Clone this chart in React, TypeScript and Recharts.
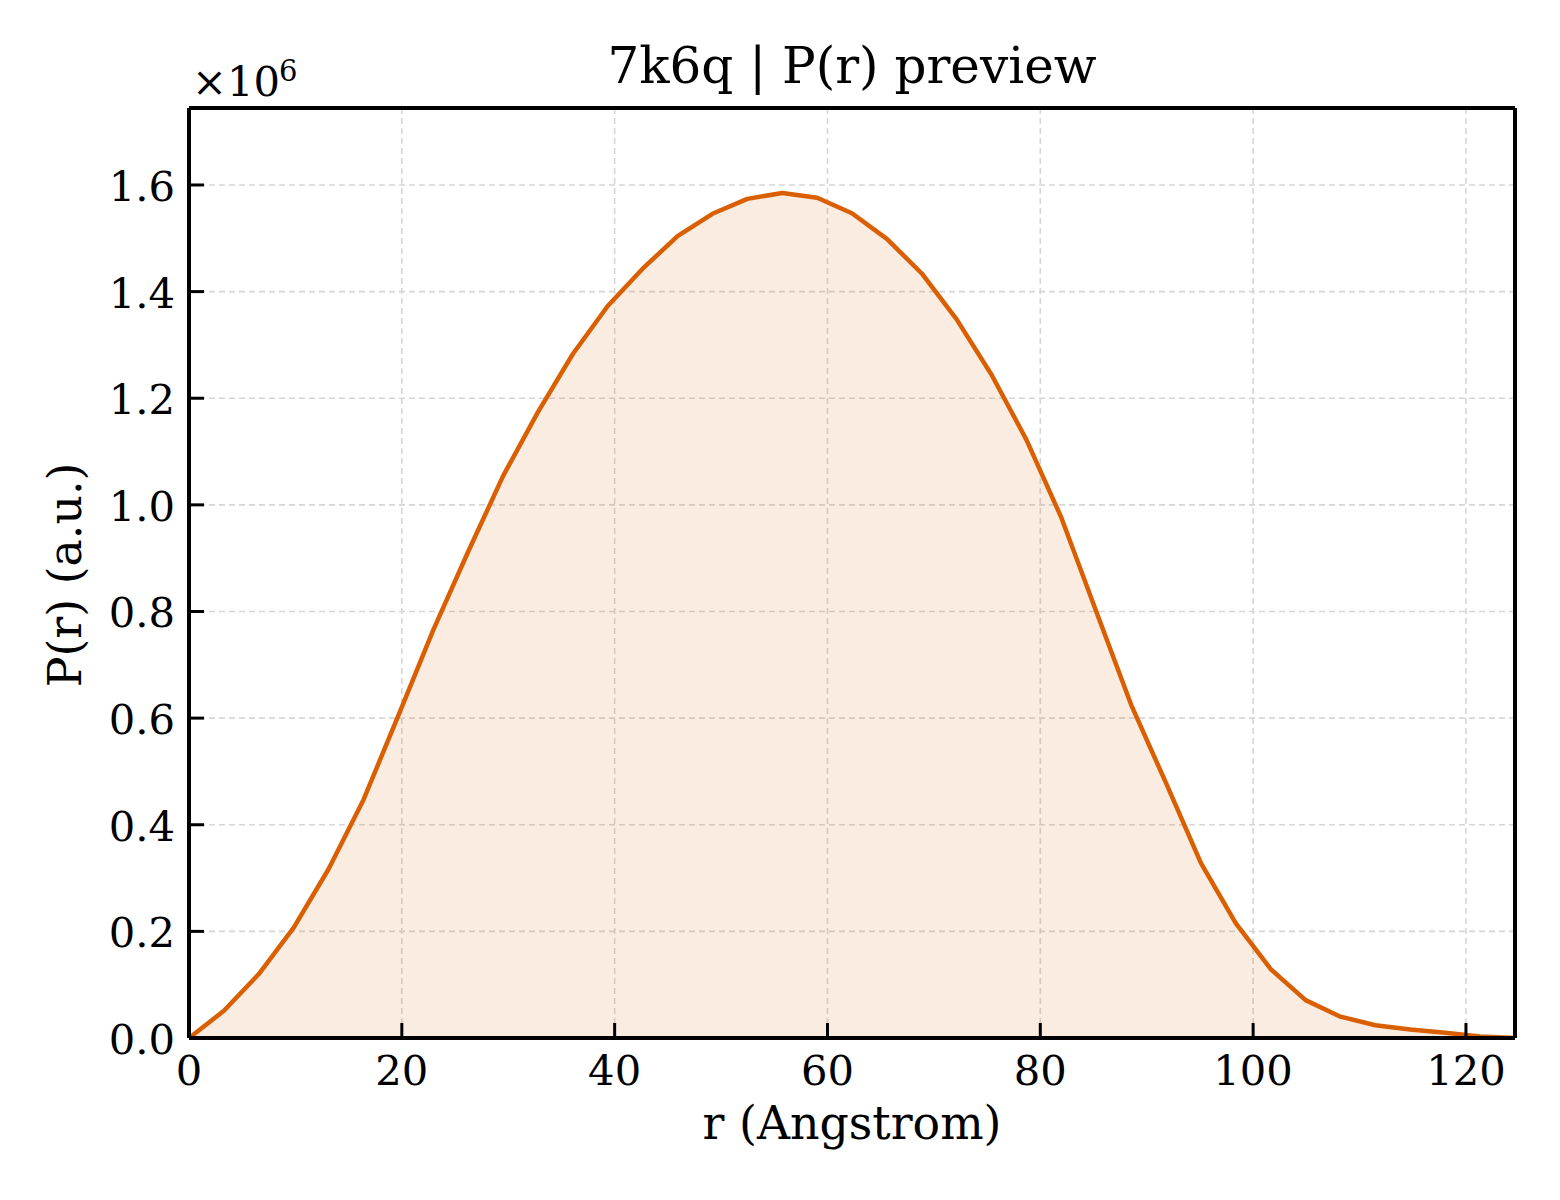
import React from "react";
import { ComposedChart, Area, Line, XAxis, YAxis, CartesianGrid } from "recharts";

// r grid (Angstrom) and P(r) values
const rValues = [
  0, 3.28, 6.56, 9.84, 13.12, 16.4, 19.68, 22.95, 26.23, 29.51, 32.79, 36.07, 39.35,
  42.63, 45.91, 49.19, 52.47, 55.75, 59.03, 62.3, 65.58, 68.86, 72.14, 75.42, 78.7,
  81.98, 85.26, 88.54, 91.82, 95.1, 98.38, 101.66, 104.93, 108.21, 111.49, 114.77,
  118.05, 121.33, 124.61,
];
const prValues = [
  0, 51000, 120000, 207000, 317000, 447000, 605000, 765000, 912000, 1054000, 1174000,
  1283000, 1373000, 1443000, 1504000, 1546000, 1574000, 1585000, 1576000, 1547000,
  1499000, 1434000, 1348000, 1244000, 1122000, 976000, 800000, 625000, 478000, 328000,
  215000, 129000, 71000, 40000, 24000, 16000, 10000, 3000, 0,
];
const xTicks = [0, 20, 40, 60, 80, 100, 120];
const yTicks = [0, 200000, 400000, 600000, 800000, 1000000, 1200000, 1400000, 1600000];

const data = rValues.map((r, i) => ({ r, p: prValues[i] }));

const FONT = "'DejaVu Serif', serif";
const ORANGE = "#d95f02";

const YTick = (props: any) => {
  const { x, y, payload } = props;
  return (
    <g>
      <line x1={x} x2={x + 15} y1={y} y2={y} stroke="#000" strokeWidth={3} />
      <text x={x - 14} y={y} dy={16} textAnchor="end" fontSize={41.7} fill="#000" fontFamily={FONT}>
        {(payload.value / 1e6).toFixed(1)}
      </text>
    </g>
  );
};

const XTick = (props: any) => {
  const { x, y, payload } = props;
  return (
    <g>
      <line x1={x} x2={x} y1={y} y2={y - 15} stroke="#000" strokeWidth={3} />
      <text x={x} y={y + 47} textAnchor="middle" fontSize={41.7} fill="#000" fontFamily={FONT}>
        {payload.value}
      </text>
    </g>
  );
};

export default function App() {
  return (
    <div style={{ position: "absolute", left: 0, top: 0, width: 1560, height: 1200, background: "#fff", fontFamily: FONT }}>
      <ComposedChart
        width={1560}
        height={1200}
        data={data}
        margin={{ top: 98, right: 35, bottom: 102, left: 89 }}
      >
        <CartesianGrid stroke="#d6d6d6" strokeWidth={1.6} strokeDasharray="6 4" />
        <Area
          type="linear"
          dataKey="p"
          stroke="none"
          fill={ORANGE}
          fillOpacity={0.12}
          dot={false}
          activeDot={false}
          isAnimationActive={false}
        />
        <Line
          type="linear"
          dataKey="p"
          stroke={ORANGE}
          strokeWidth={4.5}
          strokeLinejoin="round"
          dot={false}
          activeDot={false}
          isAnimationActive={false}
        />
        <XAxis
          dataKey="r"
          type="number"
          domain={[0, 124.61]}
          ticks={xTicks}
          allowDataOverflow
          height={60}
          tickSize={0}
          tickMargin={0}
          tickLine={false}
          axisLine={{ stroke: "#000", strokeWidth: 4 }}
          tick={XTick}
          interval={0}
        />
        <XAxis
          xAxisId="top"
          orientation="top"
          dataKey="r"
          type="number"
          domain={[0, 124.61]}
          height={10}
          tick={false}
          tickLine={false}
          axisLine={{ stroke: "#000", strokeWidth: 4 }}
        />
        <YAxis
          type="number"
          domain={[0, 1744400]}
          ticks={yTicks}
          allowDataOverflow
          width={100}
          tickSize={0}
          tickMargin={0}
          tickLine={false}
          axisLine={{ stroke: "#000", strokeWidth: 4 }}
          tick={YTick}
          interval={0}
        />
        <YAxis
          yAxisId="right"
          orientation="right"
          type="number"
          domain={[0, 1744400]}
          width={10}
          tick={false}
          tickLine={false}
          axisLine={{ stroke: "#000", strokeWidth: 4 }}
        />
      </ComposedChart>
      <svg
        width={1560}
        height={1200}
        style={{ position: "absolute", left: 0, top: 0, pointerEvents: "none" }}
        fontFamily={FONT}
      >
        <text x={852} y={83} textAnchor="middle" fontSize={50} fill="#000">
          7k6q | P(r) preview
        </text>
        <text x={192} y={96} fontSize={41.7} fill="#000">×10</text>
        <text x={279} y={81} fontSize={29} fill="#000">6</text>
        <text x={852} y={1139} textAnchor="middle" fontSize={45.8} fill="#000">
          r (Angstrom)
        </text>
        <text
          x={81}
          y={575}
          textAnchor="middle"
          fontSize={45.8}
          fill="#000"
          transform="rotate(-90 81 575)"
        >
          P(r) (a.u.)
        </text>
      </svg>
    </div>
  );
}
